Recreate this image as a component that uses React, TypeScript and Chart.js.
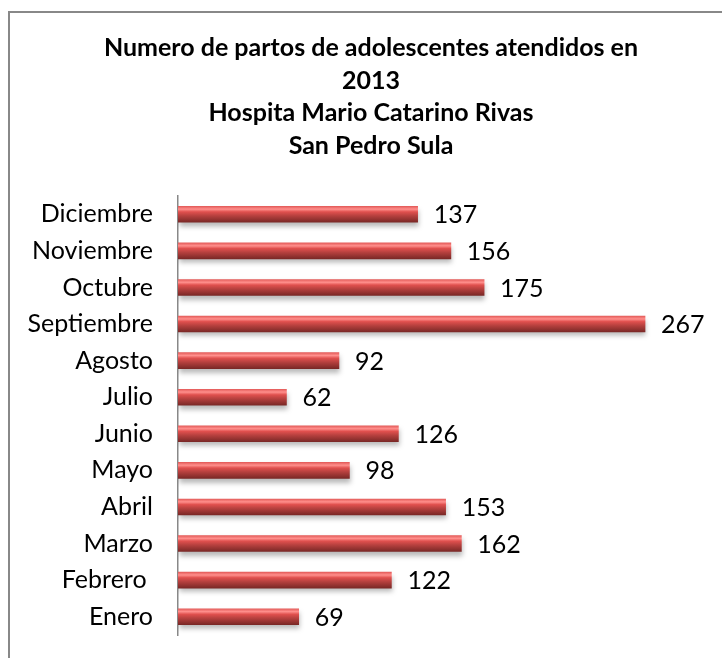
import React, { useEffect, useRef } from "react";
import { Chart, registerables } from "chart.js";

Chart.register(...registerables);

const months = [
  "Diciembre",
  "Noviembre",
  "Octubre",
  "Septiembre",
  "Agosto",
  "Julio",
  "Junio",
  "Mayo",
  "Abril",
  "Marzo",
  "Febrero ",
  "Enero",
];
const partos = [137, 156, 175, 267, 92, 62, 126, 98, 153, 162, 122, 69];
const titleLines = [
  "Numero de partos de adolescentes atendidos en",
  "2013",
  "Hospita Mario Catarino Rivas",
  "San Pedro Sula",
];

const FONT = "Lato, 'Open Sans', sans-serif";

export default function App() {
  const ref = useRef<HTMLCanvasElement | null>(null);

  useEffect(() => {
    if (!ref.current) return;

    const framePlugin = {
      id: "frame",
      beforeDraw(chart: any) {
        const ctx = chart.ctx;
        ctx.save();
        ctx.strokeStyle = "#888888";
        ctx.lineWidth = 2;
        ctx.strokeRect(9, 12, 1000, 1000);
        ctx.restore();
      },
    };

    const shadowPlugin = {
      id: "barShadow",
      beforeDatasetsDraw(chart: any) {
        const ctx = chart.ctx;
        ctx.save();
        ctx.shadowColor = "rgba(0,0,0,0.28)";
        ctx.shadowBlur = 5;
        ctx.shadowOffsetX = 1;
        ctx.shadowOffsetY = 4;
      },
      afterDatasetsDraw(chart: any) {
        chart.ctx.restore();
      },
    };

    const valuePlugin = {
      id: "values",
      afterDatasetsDraw(chart: any) {
        const ctx = chart.ctx;
        const meta = chart.getDatasetMeta(0);
        ctx.save();
        ctx.fillStyle = "#000";
        ctx.font = `25px ${FONT}`;
        ctx.textAlign = "left";
        ctx.textBaseline = "middle";
        meta.data.forEach((bar: any, i: number) => {
          ctx.fillText(String(partos[i]), bar.x + 16, bar.y + 1);
        });
        ctx.restore();
      },
    };

    const chart = new Chart(ref.current, {
      type: "bar",
      data: {
        labels: months,
        datasets: [
          {
            data: partos,
            barThickness: 16,
            borderWidth: 0,
            backgroundColor: (c: any) => {
              const ch = c.chart;
              const ys = ch.scales && ch.scales.y;
              if (!ys || ys.top === undefined) return "#c0504d";
              const yc = ys.getPixelForValue(c.dataIndex);
              const g = ch.ctx.createLinearGradient(0, yc - 8, 0, yc + 8);
              g.addColorStop(0, "#e45c5a");
              g.addColorStop(0.18, "#ff8f8c");
              g.addColorStop(0.35, "#e0504e");
              g.addColorStop(0.6, "#b5403e");
              g.addColorStop(1, "#7a2826");
              return g;
            },
          },
        ],
      },
      options: {
        indexAxis: "y",
        animation: false,
        responsive: true,
        maintainAspectRatio: false,
        layout: { padding: { top: 0, right: -20, bottom: 23, left: 0 } },
        plugins: {
          legend: { display: false },
          tooltip: { enabled: false },
          title: {
            display: true,
            text: titleLines,
            color: "#000",
            font: { family: FONT, size: 25, weight: "bold", lineHeight: 1.3 },
            padding: { top: 32, bottom: 34 },
          },
        },
        scales: {
          x: {
            display: false,
            min: 0,
            max: 311,
          },
          y: {
            afterFit(scale: any) {
              scale.width = 178;
              scale.paddingTop = 0;
              scale.paddingBottom = 0;
            },
            grid: { display: false, drawTicks: false },
            border: { display: true, color: "#888888", width: 1.5 },
            ticks: {
              color: "#000",
              padding: 25,
              font: { family: FONT, size: 25 },
            },
          },
        },
      },
      plugins: [framePlugin, shadowPlugin, valuePlugin],
    } as any);

    return () => chart.destroy();
  }, []);

  return (
    <div style={{ position: "fixed", left: 0, top: 0, width: 722, height: 658, background: "#fff" }}>
      <canvas ref={ref} />
    </div>
  );
}
